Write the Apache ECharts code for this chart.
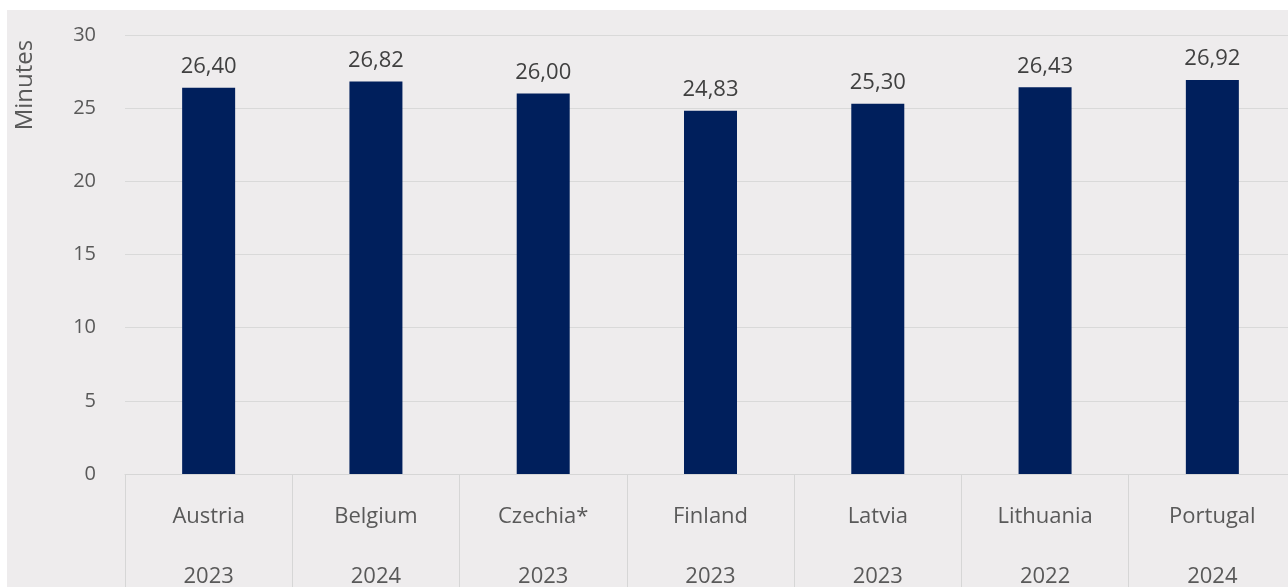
<!DOCTYPE html>
<html>
<head>
<meta charset="utf-8">
<script src="https://cdn.jsdelivr.net/npm/echarts@6/dist/echarts.min.js"></script>
<style>
  html, body { margin: 0; padding: 0; background: #ffffff; }
  #main { position: absolute; left: 7px; top: 10px; width: 1281px; height: 577px; }
</style>
</head>
<body>
<div id="main"></div>
<script>
// chart data
var countries = ["Austria", "Belgium", "Czechia*", "Finland", "Latvia", "Lithuania", "Portugal"];
var years = ["2023", "2024", "2023", "2023", "2023", "2022", "2024"];
var minutes = [26.40, 26.82, 26.00, 24.83, 25.30, 26.43, 26.92];
var yTicks = [0, 5, 10, 15, 20, 25, 30];

var font = "Open Sans";
var labels = countries.map(function (c, i) { return c + "\n\n" + years[i]; });

var myChart = echarts.init(document.getElementById("main"));
var option = {
  backgroundColor: "#eeeced",
  animation: false,
  textStyle: { fontFamily: font },
  grid: { left: 118, width: 1171, top: 25, bottom: 113, outerBoundsMode: "none", containLabel: false },
  graphic: [
    {
      type: "text",
      x: 18,
      y: 75,
      rotation: Math.PI / 2,
      style: {
        text: "Minutes",
        font: "24px " + font,
        fill: "#595959",
        align: "center",
        verticalAlign: "middle"
      }
    }
  ],
  xAxis: {
    type: "category",
    data: labels,
    axisLine: { lineStyle: { color: "#d6d6d6", width: 1 } },
    axisTick: { show: true, length: 120, interval: 0, lineStyle: { color: "#d6d6d6" } },
    axisLabel: {
      interval: 0,
      margin: 28,
      fontSize: 22,
      lineHeight: 30,
      color: "#595959",
      fontFamily: font
    }
  },
  yAxis: {
    type: "value",
    min: yTicks[0],
    max: yTicks[yTicks.length - 1],
    interval: 5,
    axisLine: { show: false },
    axisTick: { show: false },
    axisLabel: { fontSize: 20, color: "#595959", margin: 29, fontFamily: font },
    splitLine: { lineStyle: { color: "#d9d9d9", width: 1 } }
  },
  series: [
    {
      type: "bar",
      data: minutes,
      barWidth: 53,
      itemStyle: { color: "#001f5c" },
      label: {
        show: true,
        position: "top",
        distance: 10,
        fontSize: 22,
        color: "#404040",
        fontFamily: font,
        formatter: function (p) { return p.value.toFixed(2).replace(".", ","); }
      }
    }
  ]
};
myChart.setOption(option);
</script>
</body>
</html>
